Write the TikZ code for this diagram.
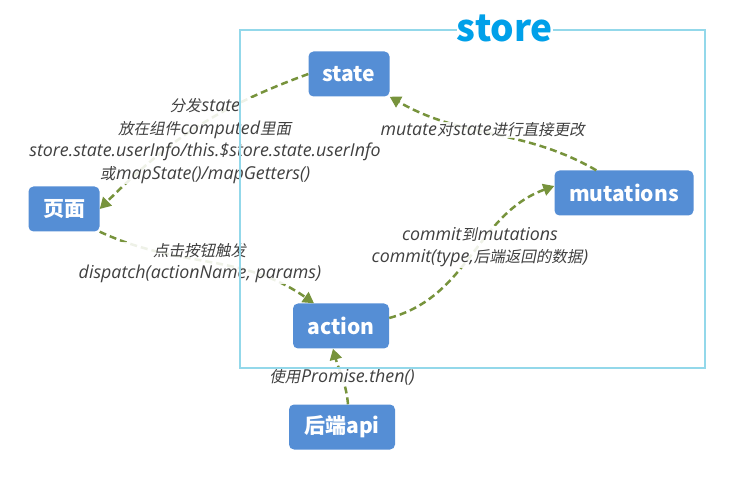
\documentclass[tikz,border=0pt]{standalone}
\usepackage{fontspec}
\usetikzlibrary{arrows.meta}
\newfontfamily\cjk{Noto Sans CJK SC}
\newfontfamily\cjkit[FakeSlant=0.2]{Noto Sans CJK SC}
\newfontfamily\latit{Open Sans}
\newcommand{\zh}[1]{{\cjkit\fontsize{15.5}{22.5}\selectfont #1}\kern0.8pt}
\definecolor{boxblue}{HTML}{558ED5}
\definecolor{olive}{HTML}{77933C}
\definecolor{notegray}{HTML}{404040}
\definecolor{storeline}{HTML}{93D8EA}
\definecolor{storetext}{HTML}{00A0E9}
\begin{document}
\begin{tikzpicture}[x=1pt, y=-1pt,
                box/.style={
                    fill=boxblue, rounded corners=5pt, text=white, font=\cjk\bfseries\fontsize{21}{23}\selectfont,
                    minimum height=45pt, inner xsep=6pt
                },
                flow/.style={
                    draw=olive, line width=2.5pt, dash pattern=on 7pt off 4pt, -{Triangle[length=11pt,width=12pt]}
                },
                note/.style={
                    text=notegray, font=\latit\itshape\fontsize{17.8}{22.5}\selectfont, align=center,
                    fill=white, fill opacity=0.88, text opacity=1, inner sep=1pt
                }
            ]
            \useasboundingbox (0,0) rectangle (729,481);
            \node[box, minimum width=81pt] (state) at (349,74) {state};
            \node[box, minimum width=71pt] (page) at (64,209) {页面};
            \node[box, minimum width=139pt] (mutations) at (624,193) {mutations};
            \node[box, minimum width=96pt] (action) at (341,326) {action};
            \node[box, minimum width=106pt] (api) at (342,427) {后端api};

            % connectors
            \draw[flow] (state.west) to[out=200, in=45] (page.east);
            \draw[flow] (mutations.north west) ++(42,0) to[out=150, in=-30] (state.south east);
            \draw[flow] (page.south east) to[out=-25, in=145] ([xshift=-27pt]action.north);
            \draw[flow] (action.east) ++(0,-8) to[out=15, in=200] ([yshift=7pt]mutations.west);
            \draw[flow] ([xshift=6pt]api.north) to[out=95, in=-75] ([xshift=-8pt]action.south);

            % labels
            \node[note] (n1) at (205,141) {\zh{分发}state\\\zh{放在组件}computed\zh{里面}\\store.state.userInfo/this.\$store.state.userInfo\\\zh{或}mapState()/mapGetters()};
            \node[note] (n2) at (200,263) {\zh{点击按钮触发}\\dispatch(actionName, params)};
            \node[note] (n3) at (483,130) {mutate\zh{对}state\zh{进行直接更改}};
            \node[note] (n4) at (480,247) {commit\zh{到}mutations\\commit(type,\zh{后端返回的数据})};
            \node[note] (n5) at (342,377) {\zh{使用}Promise.then()};

            % store
            \draw[storeline, line width=2pt] (240,30) rectangle (705,368);
            \node[fill=white, inner sep=0pt, text=storetext, font=\cjk\bfseries\fontsize{37}{39}\selectfont] (store) at (505,28) {store};
            \end{tikzpicture}
\end{document}
